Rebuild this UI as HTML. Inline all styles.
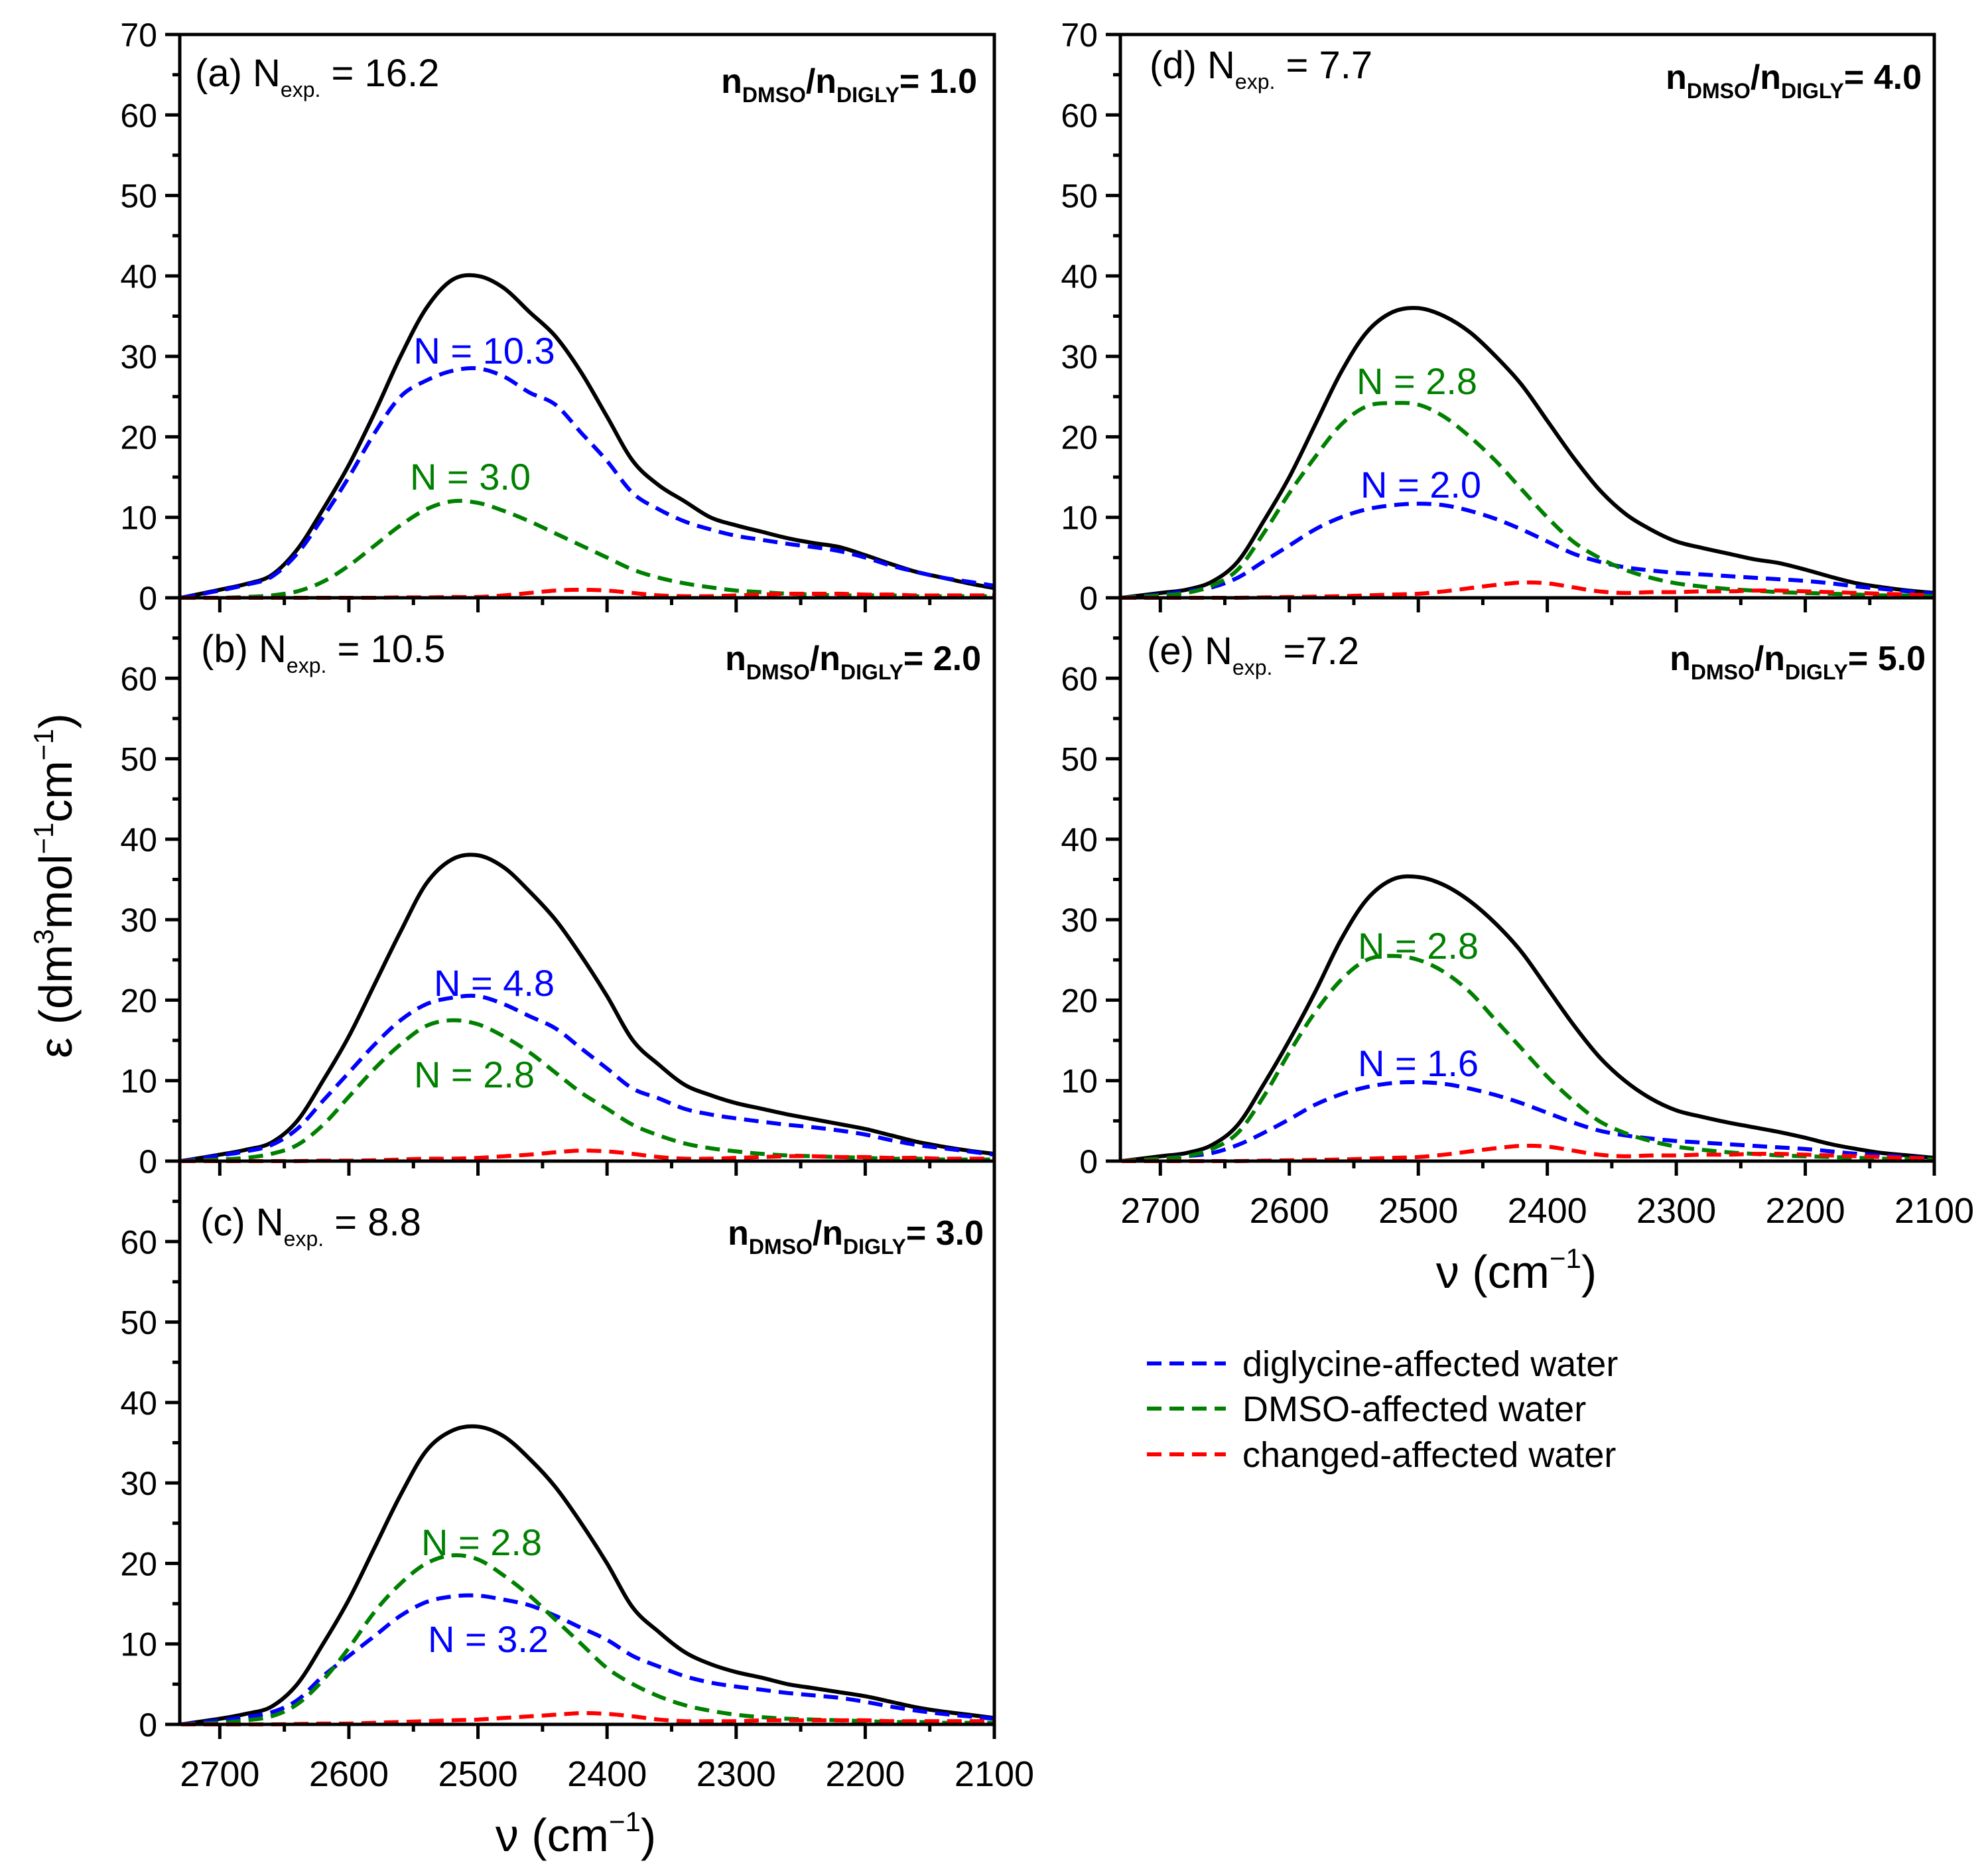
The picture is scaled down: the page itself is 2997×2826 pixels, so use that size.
<!DOCTYPE html>
<html><head><meta charset="utf-8"><style>
html,body{margin:0;padding:0;background:#fff;}
svg{display:block;font-family:"Liberation Sans",Arial,sans-serif;}
</style></head><body>
<svg id="chart" width="2997" height="2826" viewBox="0 0 2997 2826" xmlns="http://www.w3.org/2000/svg"></svg>
<script>
const wavenumbers=[2730,2700,2680,2660,2640,2620,2600,2580,2560,2540,2520,2500,2480,2460,2440,2420,2400,2380,2360,2340,2320,2300,2280,2260,2240,2220,2200,2180,2160,2140,2120,2100];
const aTotal=[0,1,1.7,2.8,6,11,16.5,23,30,36,39.5,40,38.5,35.5,32.5,28,22.5,17,14,12,10,9,8.2,7.4,6.8,6.3,5.3,4.2,3.2,2.5,1.8,1.2];
const aDigly=[0,0.9,1.6,2.6,5.5,10,15,20.5,25,27,28.2,28.5,27.5,25.5,24,20.5,17,13,11,9.5,8.5,7.7,7.2,6.7,6.3,5.8,5,4,3.2,2.5,2,1.5];
const aDmso=[0,0,0.1,0.3,0.8,2,4,6.5,9,11,12,11.8,10.8,9.5,8,6.5,5,3.5,2.5,1.8,1.3,0.9,0.7,0.5,0.4,0.3,0.3,0.3,0.2,0.2,0.2,0.2];
const aCharged=[0,0,0,0,0,0,0,0,0.05,0.05,0.1,0.1,0.3,0.6,0.9,1,0.9,0.6,0.3,0.2,0.2,0.3,0.4,0.5,0.5,0.5,0.4,0.4,0.3,0.3,0.3,0.3];
const bTotal=[0,0.8,1.4,2.3,5,10,15.5,22,28.5,34.5,37.5,38,36.5,33.5,30,25.5,20.5,15,12,9.5,8.2,7.2,6.5,5.8,5.2,4.6,4,3.2,2.4,1.8,1.3,0.9];
const bDigly=[0,0.7,1.2,2,4,7.5,11,14.5,17.5,19.5,20.3,20.5,19.5,18,16.5,14,11.5,9,7.8,6.5,5.8,5.3,4.9,4.5,4.2,3.8,3.3,2.6,2,1.6,1.2,0.8];
const bDmso=[0,0.2,0.4,0.9,2,4.5,8,11.5,14.5,16.8,17.5,17,15.5,13.5,11,8.5,6.5,4.5,3.2,2.2,1.6,1.2,0.9,0.7,0.6,0.5,0.4,0.3,0.3,0.2,0.2,0.2];
const bCharged=[0,0,0,0,0,0.05,0.05,0.1,0.2,0.3,0.3,0.4,0.6,0.8,1.1,1.3,1.2,0.9,0.5,0.3,0.3,0.4,0.5,0.6,0.6,0.5,0.5,0.4,0.4,0.3,0.3,0.3];
const cTotal=[0,0.7,1.3,2.2,5,10,15.5,22,28.5,34,36.5,37,35.8,33,29.5,25,20,14.5,11.5,9,7.5,6.5,5.8,5,4.5,4,3.5,2.8,2.1,1.6,1.2,0.8];
const cDigly=[0,0.5,0.9,1.5,3,6,8.5,11,13.5,15.2,15.9,16,15.5,14.8,13.5,12,10.5,8.5,7.2,6,5.2,4.7,4.3,3.9,3.6,3.3,2.8,2.2,1.7,1.3,1,0.7];
const cDmso=[0,0.2,0.5,1,2.5,5.5,9.5,14,17.5,20,21,20.5,18.5,16,13,10,7,5,3.5,2.4,1.7,1.2,0.9,0.7,0.6,0.5,0.4,0.3,0.3,0.2,0.2,0.2];
const cCharged=[0,0,0,0,0.05,0.1,0.1,0.2,0.3,0.4,0.5,0.6,0.8,1,1.2,1.4,1.3,1,0.6,0.4,0.4,0.4,0.5,0.5,0.5,0.5,0.5,0.4,0.4,0.4,0.4,0.4];
const dTotal=[0,0.6,1,2,4.5,9.5,15,21.5,28,33,35.5,36,35,33,30,26.5,22,17.5,13.5,10.5,8.5,7,6.2,5.5,4.8,4.3,3.5,2.6,1.8,1.3,0.9,0.6];
const dDigly=[0,0.4,0.8,1.3,2.5,4.5,6.5,8.5,10,11,11.5,11.7,11.5,10.8,9.8,8.5,7,5.5,4.5,3.8,3.4,3.1,2.9,2.7,2.5,2.3,2.1,1.8,1.4,1.1,0.8,0.5];
const dDmso=[0,0.3,0.6,1.5,3.5,8,13,17.5,21.5,23.8,24.2,24,22.5,20,17,13.5,10,7,5,3.5,2.5,1.8,1.4,1.1,0.9,0.7,0.6,0.5,0.4,0.3,0.3,0.2];
const dCharged=[0,0,0,0,0,0.05,0.1,0.15,0.2,0.3,0.4,0.5,0.8,1.2,1.6,1.9,1.8,1.3,0.8,0.6,0.7,0.7,0.8,0.8,0.9,0.9,0.8,0.7,0.6,0.5,0.4,0.3];
const eTotal=[0,0.6,1,2,4.5,9.5,15,21,27.5,32.5,35,35.3,34.3,32.3,29.5,26,21.5,17,13,10,7.8,6.3,5.5,4.8,4.2,3.6,2.9,2.1,1.5,1,0.7,0.4];
const eDigly=[0,0.3,0.6,1,2,3.5,5.2,7,8.3,9.2,9.7,9.8,9.6,9,8.2,7.2,6,4.8,3.8,3.2,2.8,2.5,2.3,2.1,1.9,1.7,1.5,1.2,0.9,0.7,0.5,0.3];
const eDmso=[0,0.3,0.6,1.5,3.5,8,13.5,18.5,22.5,25,25.5,25,23.5,21,17.5,14,10.5,7.5,5,3.5,2.5,1.8,1.4,1.1,0.9,0.7,0.6,0.5,0.4,0.3,0.3,0.2];
const eCharged=[0,0,0,0,0,0.05,0.1,0.15,0.2,0.3,0.4,0.5,0.8,1.2,1.6,1.9,1.8,1.3,0.8,0.6,0.7,0.7,0.8,0.8,0.9,0.9,0.8,0.7,0.6,0.5,0.4,0.3];
const xTickLabels=["2700","2600","2500","2400","2300","2200","2100"];
const yTickLabels=["0","10","20","30","40","50","60","70"];

const NS="http://www.w3.org/2000/svg";
const svg=document.getElementById('chart');
function mk(tag,attrs,parent){const e=document.createElementNS(NS,tag);for(const k in attrs)e.setAttribute(k,attrs[k]);(parent||svg).appendChild(e);return e;}

const panels=[
 {id:'a',x0:271,x1:1499,y0:52,yz:901,top:true,xl:false,series:[aTotal,aDigly,aDmso,aCharged],label:'(a)',nexp:' = 16.2',ratio:'1.0',lp:[294,130],rp:[1473,140],
  notes:[['N = 10.3','#0000ff',730,548],['N = 3.0','#008000',709,738]]},
 {id:'b',x0:271,x1:1499,y0:901,yz:1750,top:false,xl:false,series:[bTotal,bDigly,bDmso,bCharged],label:'(b)',nexp:' = 10.5',ratio:'2.0',lp:[303,998],rp:[1479,1010],
  notes:[['N = 4.8','#0000ff',745,1501],['N = 2.8','#008000',715,1639]]},
 {id:'c',x0:271,x1:1499,y0:1750,yz:2599,top:false,xl:true,series:[cTotal,cDigly,cDmso,cCharged],label:'(c)',nexp:' = 8.8',ratio:'3.0',lp:[302,1862],rp:[1483,1876],
  notes:[['N = 2.8','#008000',726,2344],['N = 3.2','#0000ff',736,2490]]},
 {id:'d',x0:1689,x1:2916,y0:52,yz:901,top:true,xl:false,series:[dTotal,dDigly,dDmso,dCharged],label:'(d)',nexp:' = 7.7',ratio:'4.0',lp:[1733,118],rp:[2897,134],
  notes:[['N = 2.8','#008000',2136,594],['N = 2.0','#0000ff',2142,750]]},
 {id:'e',x0:1689,x1:2916,y0:901,yz:1750,top:false,xl:true,series:[eTotal,eDigly,eDmso,eCharged],label:'(e)',nexp:' =7.2',ratio:'5.0',lp:[1729,1001],rp:[2903,1010],
  notes:[['N = 2.8','#008000',2138,1445],['N = 1.6','#0000ff',2138,1622]]}
];
const colors=['#000000','#0000ff','#008000','#ff0000'];
const names=['total-spectrum','diglycine-affected-curve','dmso-affected-curve','charged-affected-curve'];

function smoothPath(pts){
  let d='M'+pts[0][0].toFixed(1)+','+pts[0][1].toFixed(1);
  for(let i=0;i<pts.length-1;i++){
    const p0=pts[Math.max(0,i-1)],p1=pts[i],p2=pts[i+1],p3=pts[Math.min(pts.length-1,i+2)];
    const c1=[p1[0]+(p2[0]-p0[0])/6,p1[1]+(p2[1]-p0[1])/6];
    const c2=[p2[0]-(p3[0]-p1[0])/6,p2[1]-(p3[1]-p1[1])/6];
    d+=' C'+c1[0].toFixed(1)+','+c1[1].toFixed(1)+' '+c2[0].toFixed(1)+','+c2[1].toFixed(1)+' '+p2[0].toFixed(1)+','+p2[1].toFixed(1);
  }
  return d;
}

panels.forEach(p=>{
  const g=mk('g',{});
  
  
  const xs=v=>p.x1-(v-2100)*(p.x1-p.x0)/(2731-2100);
  const ys=v=>p.yz-v*(p.yz-p.y0)/70;
  p.series.forEach((s,si)=>{
    const pts=s.map((v,i)=>[xs(wavenumbers[i]),ys(v)]);
    const path=mk('path',{d:smoothPath(pts),fill:'none',stroke:colors[si],'stroke-width':si==0?6:6,'stroke-dasharray':si==0?'none':'22,12','stroke-linejoin':'round'},g);
    
    
  });
  const fr=mk('rect',{x:p.x0,y:p.y0,width:p.x1-p.x0,height:p.yz-p.y0,fill:'none',stroke:'#000','stroke-width':5},g);
  
  
  for(let v=0;v<=70;v+=5){
    const major=v%10==0;
    if(!p.top&&v==70)continue;
    mk('line',{x1:p.x0-(major?22:11),x2:p.x0,y1:ys(v),y2:ys(v),stroke:'#000','stroke-width':5},g);
    if(major){
      const t=mk('text',{x:p.x0-34,y:ys(v)+18,'text-anchor':'end','font-size':50},g);
      t.textContent=yTickLabels[v/10];
      
      
    }
  }
  for(let v=2700;v>=2100;v-=50){
    const major=v%100==0;
    mk('line',{x1:xs(v),x2:xs(v),y1:p.yz,y2:p.yz+(major?22:11),stroke:'#000','stroke-width':5},g);
    if(major&&p.xl){
      const t=mk('text',{x:xs(v),y:p.yz+93,'text-anchor':'middle','font-size':54},g);
      t.textContent=xTickLabels[(2700-v)/100];
      
      
    }
  }
  const pl=mk('text',{x:p.lp[0],y:p.lp[1],'font-size':58},g);
  
  
  pl.innerHTML=p.label+' N<tspan font-size="32" dy="16">exp.</tspan><tspan dy="-16">'+p.nexp+'</tspan>';
  const rl=mk('text',{x:p.rp[0],y:p.rp[1],'font-size':52,'font-weight':'bold','text-anchor':'end'},g);
  
  
  rl.innerHTML='n<tspan font-size="32" dy="14">DMSO</tspan><tspan dy="-14">/n</tspan><tspan font-size="32" dy="14">DIGLY</tspan><tspan dy="-14">= '+p.ratio+'</tspan>';
  p.notes.forEach(n=>{
    const t=mk('text',{x:n[2],y:n[3],'text-anchor':'middle','font-size':56,fill:n[1]},g);
    t.textContent=n[0];
    
    
  });
});

const yt=mk('text',{x:0,y:0,'font-size':70,'text-anchor':'middle',transform:'translate(108,1335) rotate(-90)'});


yt.innerHTML='ε (dm<tspan font-size="42" dy="-28">3</tspan><tspan dy="28">mol</tspan><tspan font-size="42" dy="-28">−1</tspan><tspan dy="28">cm</tspan><tspan font-size="42" dy="-28">−1</tspan><tspan dy="28">)</tspan>';
[[868,2790,'x-axis-title-left'],[2286,1941,'x-axis-title-right']].forEach(a=>{
  const t=mk('text',{x:a[0],y:a[1],'font-size':70,'text-anchor':'middle'});
  
  
  t.innerHTML='ν (cm<tspan font-size="42" dy="-30">−1</tspan><tspan dy="30">)</tspan>';
});
const legend=mk('g',{});


[['diglycine-affected water','#0000ff',2055],['DMSO-affected water','#008000',2123],['changed-affected water','#ff0000',2192]].forEach(l=>{
  mk('line',{x1:1729,x2:1848,y1:l[2],y2:l[2],stroke:l[1],'stroke-width':6,'stroke-dasharray':'22,12'},legend);
  const t=mk('text',{x:1873,y:l[2]+19,'font-size':54},legend);
  t.textContent=l[0];
  
  
});
</script>
</body></html>
